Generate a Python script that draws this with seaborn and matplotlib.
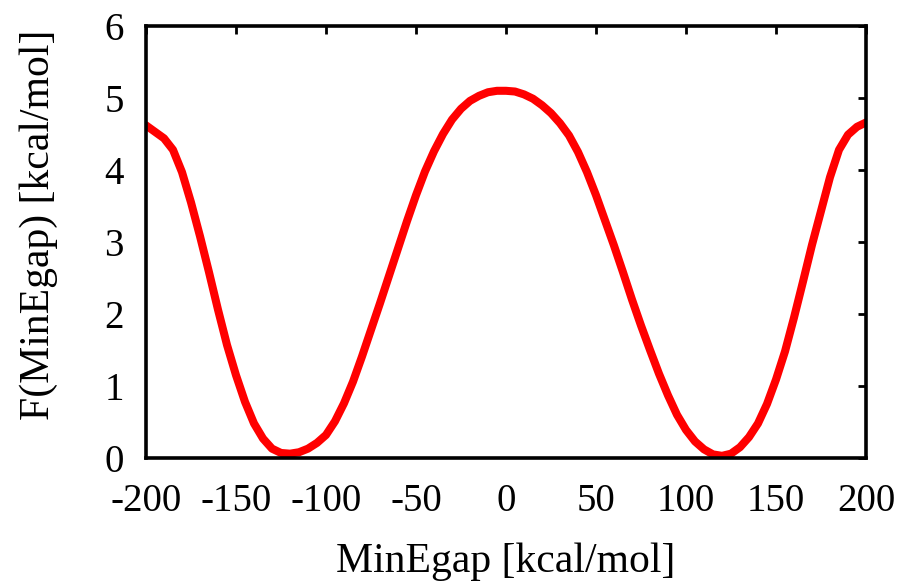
import numpy as np
import pandas as pd
import matplotlib
matplotlib.use('Agg')
import matplotlib.pyplot as plt
import seaborn as sns

# Free energy profile
min_egap = [-200, -195, -190, -185, -180, -175, -170, -165, -160, -155,
            -150, -145, -140, -135, -130, -125, -120, -115, -110, -105,
            -100, -95, -90, -85, -80, -75, -70, -65, -60, -55,
            -50, -45, -40, -35, -30, -25, -20, -15, -10, -5,
            0, 5, 10, 15, 20, 25, 30, 35, 40, 45,
            50, 55, 60, 65, 70, 75, 80, 85, 90, 95,
            100, 105, 110, 115, 120, 125, 130, 135, 140, 145,
            150, 155, 160, 165, 170, 175, 180, 185, 190, 195, 200]
free_energy = [4.62, 4.53, 4.44, 4.28, 3.97, 3.55, 3.08, 2.58, 2.06, 1.57,
               1.15, 0.78, 0.48, 0.27, 0.13, 0.07, 0.06, 0.08, 0.13, 0.21,
               0.32, 0.51, 0.76, 1.06, 1.41, 1.78, 2.15, 2.53, 2.91, 3.29,
               3.65, 3.98, 4.26, 4.50, 4.70, 4.85, 4.96, 5.03, 5.08, 5.10,
               5.10, 5.09, 5.05, 4.99, 4.90, 4.79, 4.65, 4.48, 4.25, 3.97,
               3.65, 3.30, 2.95, 2.58, 2.20, 1.84, 1.50, 1.17, 0.87, 0.60,
               0.39, 0.23, 0.12, 0.05, 0.03, 0.06, 0.15, 0.29, 0.48, 0.75,
               1.09, 1.48, 1.95, 2.45, 2.96, 3.43, 3.90, 4.28, 4.49, 4.60, 4.66]

x_ticks = [-200, -150, -100, -50, 0, 50, 100, 150, 200]
y_ticks = [0, 1, 2, 3, 4, 5, 6]

df = pd.DataFrame({'MinEgap': min_egap, 'F': free_energy})

sns.set_style('white')
plt.rcParams['font.family'] = ['Liberation Serif', 'DejaVu Serif']

fig = plt.figure(figsize=(9.03, 5.81), dpi=100)
ax = fig.add_axes([146 / 903, 1 - 458 / 581, 720 / 903, 432 / 581])

sns.lineplot(data=df, x='MinEgap', y='F', color='#ff0000', linewidth=5.8, ax=ax)

ax.set_xlim(-200, 200)
ax.set_ylim(0, 6)
ax.set_xticks(x_ticks)
ax.set_yticks(y_ticks)
ax.set_xticklabels([str(t) for t in x_ticks])
ax.set_yticklabels([str(t) for t in y_ticks])

for side in ['top', 'bottom', 'left', 'right']:
    ax.spines[side].set_visible(True)
    ax.spines[side].set_color('black')
    ax.spines[side].set_linewidth(2.6)

ax.tick_params(axis='both', which='major', direction='in', length=6, width=2,
               color='black', top=True, right=True, labelsize=28, labelcolor='black')
ax.tick_params(axis='x', pad=18)
ax.tick_params(axis='y', pad=16)

ax.set_xlabel('MinEgap [kcal/mol]', fontsize=30, labelpad=16, color='black')
ax.set_ylabel('F(MinEgap) [kcal/mol]', fontsize=30, color='black')
ax.yaxis.set_label_coords(-0.122, 0.54)

plt.savefig('out.png', dpi=100)
plt.close()
